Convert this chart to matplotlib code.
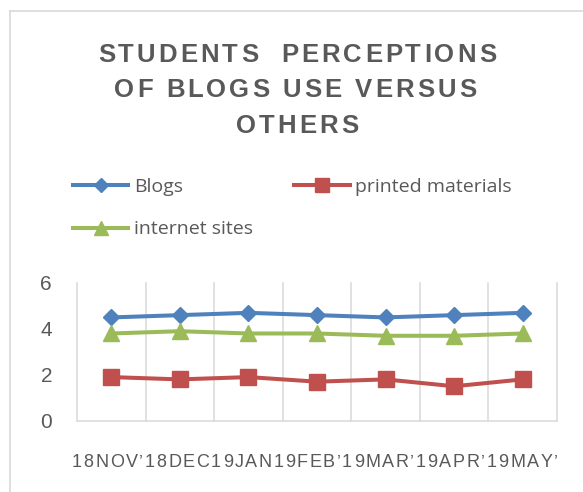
import matplotlib
matplotlib.use("Agg")
import numpy as np
import matplotlib.pyplot as plt
from matplotlib.font_manager import FontProperties, findfont
from matplotlib.ft2font import FT2Font
from matplotlib.lines import Line2D

# ---------------- data ----------------
x_labels = ["18NOV", "\u201918DEC", "19JAN", "19FEB", "\u201919MAR", "\u201919APR", "\u201919MAY\u2019"]
blogs = [4.5, 4.6, 4.7, 4.6, 4.5, 4.6, 4.7]
printed = [1.9, 1.8, 1.9, 1.7, 1.8, 1.5, 1.8]
internet = [3.8, 3.9, 3.8, 3.8, 3.7, 3.7, 3.8]
series_names = ["Blogs", "printed materials", "internet sites"]
title_lines = ["STUDENTS  PERCEPTIONS", "OF BLOGS USE VERSUS", "OTHERS"]
y_ticks = [0, 2, 4, 6]

W, H, DPI = 583, 492, 100
TXT = "#595959"
GRID = "#d9d9d9"

fig = plt.figure(figsize=(W / DPI, H / DPI), dpi=DPI)
fig.patch.set_facecolor("white")


def tracked_text(s, cx, y_base, fp, color, target_width=None, tracking=0.0):
    ft = FT2Font(findfont(fp))
    ft.set_size(fp.get_size_in_points(), DPI)
    adv = [ft.load_char(ord(c)).linearHoriAdvance / 65536.0 for c in s]
    if target_width is not None:
        tracking = (target_width - sum(adv)) / (len(s) - 1)
    total = sum(adv) + tracking * (len(s) - 1)
    x = cx - total / 2.0
    for c, a in zip(s, adv):
        if c != " ":
            fig.text(x / W, 1 - y_base / H, c, fontproperties=fp, color=color,
                     ha="left", va="baseline")
        x += a + tracking
    return tracking


# outer chart-area border (cropped on right/bottom)
fig.add_artist(Line2D([10 / W, 10 / W], [0, 1 - 11 / H], color=GRID, lw=1.2))
fig.add_artist(Line2D([10 / W, 1], [1 - 11 / H, 1 - 11 / H], color=GRID, lw=1.2))

# ---------------- axes ----------------
ax = fig.add_axes([77 / W, (H - 420.7) / H, 480 / W, 137.7 / H])
xs = np.arange(len(x_labels))
l1, = ax.plot(xs, blogs, color="#4F81BD", lw=2.9, marker="D", ms=8.5,
              label=series_names[0], zorder=3)
l2, = ax.plot(xs, printed, color="#C0504D", lw=2.9, marker="s", ms=12,
              label=series_names[1], zorder=3)
l3, = ax.plot(xs, internet, color="#9BBB59", lw=2.9, marker="^", ms=12,
              label=series_names[2], zorder=3)

ax.set_xlim(-0.5, len(x_labels) - 0.5)
ax.set_ylim(0, 6)
ax.set_yticks(y_ticks)
ax.set_xticks([])
for b in np.arange(-0.5, len(x_labels), 1.0):
    ax.axvline(b, color=GRID, lw=1.1, zorder=0, clip_on=False)
for s in ["top", "right", "left"]:
    ax.spines[s].set_visible(False)
ax.spines["bottom"].set_color(GRID)
ax.spines["bottom"].set_linewidth(1.1)
ax.tick_params(axis="y", length=0, pad=18, labelcolor=TXT)
tick_fp = FontProperties(family="Liberation Sans", size=15)
for t in ax.get_yticklabels():
    t.set_fontproperties(tick_fp)

# x category labels (overlapping, as in the reference)
xl_fp = FontProperties(family="Liberation Sans", size=13)
tracked_text("".join(x_labels), 315, 467, xl_fp, TXT, target_width=486)

# ---------------- title ----------------
title_fp = FontProperties(family="Liberation Sans", weight="bold", size=18.5)
tr = tracked_text(title_lines[0], 297, 62, title_fp, TXT, target_width=398)
tracked_text(title_lines[1], 295, 97, title_fp, TXT, tracking=tr)
tracked_text(title_lines[2], 297, 133, title_fp, TXT, tracking=tr)

# ---------------- legend ----------------
leg_fp = FontProperties(family="Open Sans", size=14)
fig.legend(handles=[l1, l3, l2], labels=[series_names[0], series_names[2], series_names[1]],
           ncol=2, loc="upper left", bbox_to_anchor=(73 / W, 1 - 178 / H),
           frameon=False, borderpad=0, borderaxespad=0, handlelength=2.85,
           handletextpad=0.3, columnspacing=2.1, labelspacing=1.25, prop=leg_fp,
           labelcolor=TXT, markerscale=0.8, numpoints=1)

fig.savefig("out.png", dpi=DPI, facecolor="white")
